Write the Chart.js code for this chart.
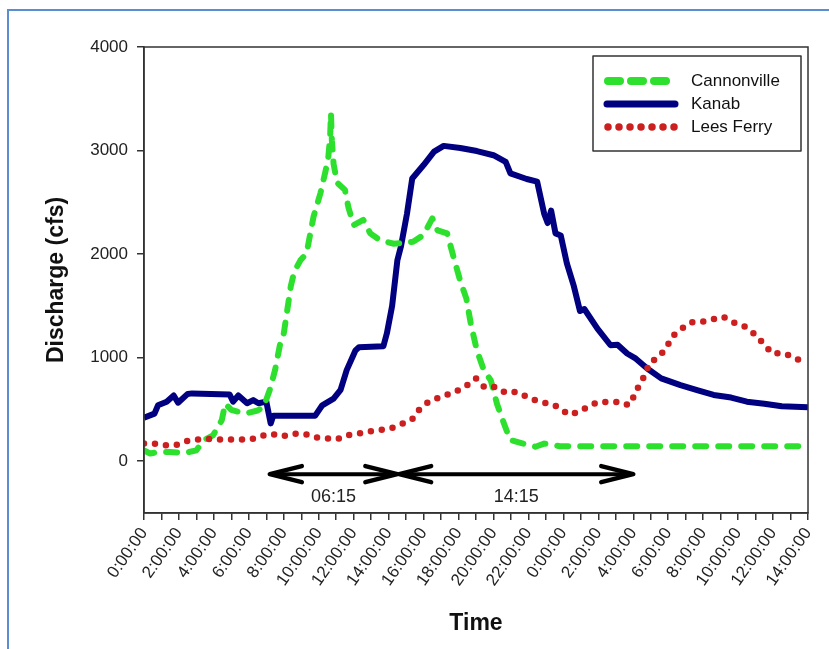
<!DOCTYPE html>
<html>
<head>
<meta charset="utf-8">
<script src="https://cdn.jsdelivr.net/npm/chart.js@4"></script>
<style>
body{margin:0;background:#fff;overflow:hidden;}
#frame{position:absolute;left:7px;top:9px;right:-10px;bottom:-10px;border:2px solid #5b8dd3;}
#chart{position:absolute;left:0;top:0;}
</style>
</head>
<body>
<div id="frame"></div>
<canvas id="chart" width="829" height="649"></canvas>
<script>
// x tick labels, one every 2 hours over 38 hours
const tickLabels = ['0:00:00','2:00:00','4:00:00','6:00:00','8:00:00','10:00:00','12:00:00','14:00:00','16:00:00','18:00:00','20:00:00','22:00:00','0:00:00','2:00:00','4:00:00','6:00:00','8:00:00','10:00:00','12:00:00','14:00:00'];
const yTicks = [0,1000,2000,3000,4000];

// hours since start, discharge in cfs
const cannonvilleHours = [0,0.35,0.9,1.5,2.35,3.0,3.4,3.95,4.45,4.65,5.0,5.8,6.5,6.85,7.2,7.5,7.8,8.0,8.2,8.4,8.6,8.95,9.3,9.7,10.1,10.4,10.55,10.65,10.7,10.75,10.85,11.05,11.5,11.7,12.0,12.55,12.95,13.5,14.3,15.4,16.0,16.5,16.8,17.35,17.75,18.1,18.45,18.7,19.05,19.45,19.85,20.2,20.6,20.95,21.7,22.4,22.9,23.8,38];
const cannonvilleCfs = [105,75,90,90,80,105,200,250,395,555,495,460,490,525,690,880,1140,1235,1460,1690,1830,1940,2005,2360,2590,2810,2940,3130,3360,3100,2870,2690,2620,2450,2280,2330,2200,2135,2100,2120,2185,2345,2230,2200,1950,1740,1570,1330,1070,880,780,555,365,205,170,140,170,145,145];

const kanabHours = [0,0.6,0.8,1.3,1.7,1.95,2.5,2.75,4.9,5.1,5.4,5.9,6.25,6.55,7.0,7.25,7.4,9.8,10.2,10.85,11.25,11.6,12.1,12.3,13.7,13.9,14.2,14.5,14.7,15.05,15.35,16.0,16.6,17.15,18.1,19.05,20.0,20.7,20.97,21.9,22.5,22.9,23.1,23.3,23.55,23.85,24.2,24.6,24.95,25.2,25.95,26.7,27.1,27.65,28.15,28.8,29.6,30.7,31.7,32.6,33.6,34.5,35.5,36.5,38];
const kanabCfs = [420,460,540,575,635,565,650,655,645,575,635,560,590,560,575,365,440,440,540,605,690,880,1070,1100,1110,1235,1500,1940,2070,2390,2730,2860,2990,3045,3025,2995,2955,2890,2780,2725,2700,2390,2300,2420,2200,2180,1910,1690,1450,1470,1280,1120,1125,1040,990,895,800,735,685,640,615,575,555,530,520];

const leesFerryHours = [0,0.55,1.2,1.8,2.45,3.0,3.7,4.3,6.1,6.75,7.3,7.9,8.55,9.15,9.8,10.4,11.05,11.6,12.2,12.85,13.45,14.1,14.6,15.35,15.8,16.3,16.9,17.25,17.8,18.45,19.0,19.5,20.1,20.7,21.3,21.95,22.6,23.2,23.75,24.3,24.9,25.45,26.0,26.7,27.2,27.75,28.05,28.35,28.7,28.9,29.45,29.9,30.2,30.7,31.3,31.9,32.5,33.15,33.75,34.4,34.95,35.5,35.95,36.55,37.15,37.6,38];
const leesFerryCfs = [170,170,155,155,195,210,215,210,210,245,265,240,265,265,230,220,212,250,265,285,300,316,348,405,510,575,615,637,670,728,800,712,718,660,670,620,573,557,520,450,477,531,573,573,573,540,630,740,840,945,1008,1095,1200,1272,1340,1346,1369,1394,1340,1298,1227,1127,1040,1046,1008,966,976];

// travel-time spans drawn as double arrows under the curves
const spanLabels = ['06:15','14:15'];
const spanStart = [7.2,14.6];
const spanEnd = [14.5,28.0];

function pts(xs,ys){ return xs.map((x,i)=>({x:x,y:ys[i]})); }

const tickFont = {family:'"Liberation Sans", Arial, sans-serif', size:17};
const titleFont = {family:'"Liberation Sans", Arial, sans-serif', size:23, weight:'bold'};

const legendSample = [
  {dash:[12,11], cap:'round', width:8, from:608, to:670},
  {dash:[], cap:'round', width:7, from:607, to:675},
  {dash:[0,11], cap:'round', width:7.5, from:608, to:675}
];

const extras = {
  id:'extras',
  afterDatasetsDraw(chart){
    const ctx = chart.ctx, a = chart.chartArea;
    const xs = chart.scales.x, ys = chart.scales.y;
    ctx.save();
    // plot frame
    ctx.strokeStyle = '#333';
    ctx.lineWidth = 1.5;
    ctx.strokeRect(a.left, a.top, a.right-a.left, a.bottom-a.top);

    // span arrows
    ctx.strokeStyle = '#000';
    ctx.fillStyle = '#222';
    ctx.lineCap = 'round';
    ctx.lineJoin = 'round';
    const ay = ys.getPixelForValue(-125);
    const ty = ys.getPixelForValue(-350);
    spanLabels.forEach((lab,i)=>{
      const x1 = xs.getPixelForValue(spanStart[i]);
      const x2 = xs.getPixelForValue(spanEnd[i]);
      ctx.lineWidth = 4;
      ctx.beginPath();
      ctx.moveTo(x1+3, ay); ctx.lineTo(x2-3, ay);
      ctx.stroke();
      ctx.lineWidth = 4.5;
      ctx.beginPath();
      ctx.moveTo(x1+32, ay-8); ctx.lineTo(x1, ay); ctx.lineTo(x1+32, ay+8);
      ctx.moveTo(x2-32, ay-8); ctx.lineTo(x2, ay); ctx.lineTo(x2-32, ay+8);
      ctx.stroke();
      ctx.font = '18px "Liberation Sans", Arial, sans-serif';
      ctx.textAlign = 'center';
      ctx.textBaseline = 'middle';
      ctx.fillText(lab, xs.getPixelForValue((spanStart[i]+spanEnd[i])/2), ty);
    });

    // legend
    ctx.fillStyle = '#fff';
    ctx.fillRect(593, 56, 208, 95);
    ctx.strokeStyle = '#333';
    ctx.lineWidth = 1.5;
    ctx.strokeRect(593, 56, 208, 95);
    chart.data.datasets.forEach((ds,i)=>{
      const y = 81 + i*23;
      const s = legendSample[i];
      ctx.strokeStyle = ds.borderColor;
      ctx.lineWidth = s.width;
      ctx.lineCap = s.cap;
      ctx.setLineDash(s.dash);
      ctx.beginPath();
      ctx.moveTo(s.from, y); ctx.lineTo(s.to, y);
      ctx.stroke();
      ctx.setLineDash([]);
      ctx.fillStyle = '#111';
      ctx.font = '17px "Liberation Sans", Arial, sans-serif';
      ctx.textAlign = 'left';
      ctx.textBaseline = 'middle';
      ctx.fillText(ds.label, 691, y);
    });
    ctx.restore();
  }
};

new Chart(document.getElementById('chart'),{
  type:'line',
  data:{
    datasets:[
      {label:'Cannonville', data:pts(cannonvilleHours,cannonvilleCfs), borderColor:'#2ee02e', borderWidth:6, borderDash:[11,12], borderCapStyle:'round', borderJoinStyle:'round', pointRadius:0, order:1},
      {label:'Kanab', data:pts(kanabHours,kanabCfs), borderColor:'#000080', borderWidth:6, borderJoinStyle:'round', pointRadius:0, order:2},
      {label:'Lees Ferry', data:pts(leesFerryHours,leesFerryCfs), borderColor:'#cc1f1f', borderWidth:6.5, borderDash:[0,11], borderCapStyle:'round', pointRadius:0, order:0}
    ]
  },
  options:{
    responsive:false,
    animation:false,
    layout:{padding:{top:47,right:21,left:0,bottom:0}},
    plugins:{legend:{display:false},tooltip:{enabled:false}},
    scales:{
      x:{
        type:'linear', min:0, max:38,
        afterBuildTicks:s=>{ s.ticks = Array.from({length:39},(_,i)=>({value:i})); },
        afterFit:s=>{ s.height = 136; },
        ticks:{autoSkip:false, minRotation:55, maxRotation:55, padding:4, color:'#222', font:tickFont,
          callback:v=> v%2===0 ? tickLabels[v/2] : ''},
        grid:{drawOnChartArea:false, tickLength:7, color:'#333', lineWidth:1.5},
        border:{color:'#333', width:1.5},
        title:{display:true, text:'Time', color:'#111', font:titleFont, padding:{top:0,bottom:12}}
      },
      y:{
        min:-500, max:4000,
        afterBuildTicks:s=>{ s.ticks = yTicks.map(v=>({value:v})); },
        afterFit:s=>{ s.width = 144; },
        ticks:{padding:9, color:'#222', font:tickFont, callback:v=>String(v)},
        grid:{drawOnChartArea:false, tickLength:7, color:'#333', lineWidth:1.5},
        border:{color:'#333', width:1.5},
        title:{display:true, text:'Discharge (cfs)', color:'#111', font:titleFont, padding:{top:43,bottom:0}}
      }
    }
  },
  plugins:[extras]
});
</script>
</body>
</html>
